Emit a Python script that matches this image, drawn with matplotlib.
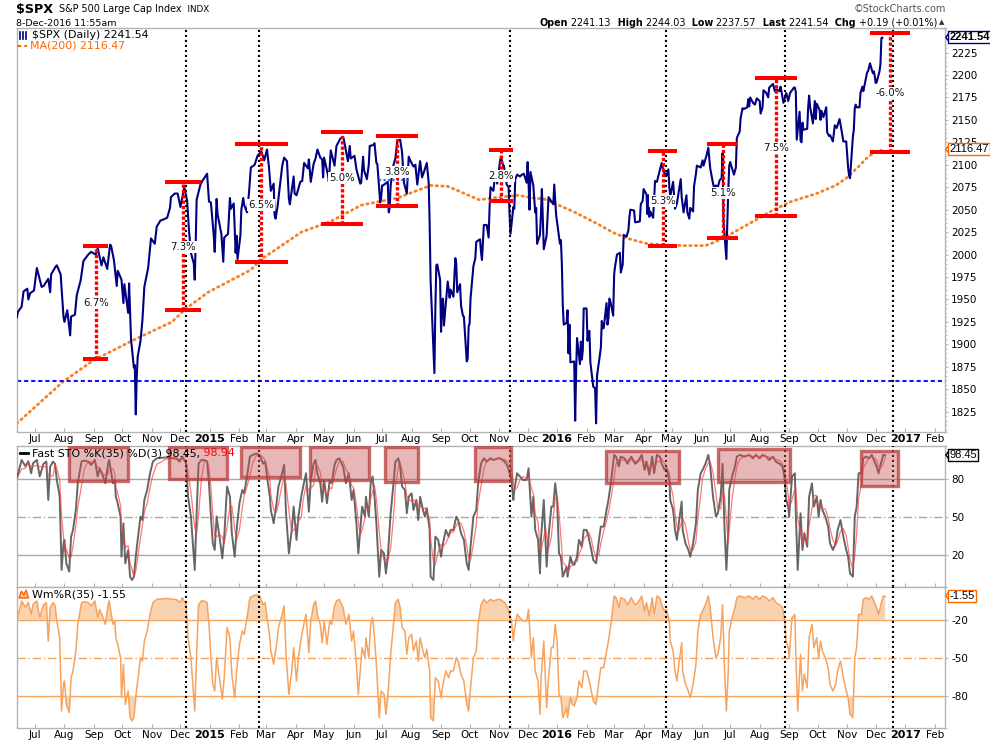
import numpy as np
import pandas as pd
import matplotlib
matplotlib.use("Agg")
from matplotlib import pyplot as plt
import matplotlib.dates as mdates
from matplotlib.patches import Rectangle, Polygon
from matplotlib.lines import Line2D
from matplotlib.ticker import MultipleLocator

plt.rcParams["axes.unicode_minus"] = False

W, H = 990, 744

# ---------------- data ----------------
spx_dates = [
    "2014-06-12", "2014-06-13", "2014-06-17", "2014-06-19", "2014-06-23", "2014-06-24", "2014-06-26", "2014-06-30",
    "2014-07-03", "2014-07-08", "2014-07-10", "2014-07-15", "2014-07-17", "2014-07-18", "2014-07-23", "2014-07-24", "2014-07-28", "2014-07-31",
    "2014-08-01", "2014-08-04", "2014-08-06", "2014-08-07", "2014-08-08", "2014-08-12", "2014-08-14", "2014-08-18", "2014-08-21", "2014-08-26", "2014-08-29",
    "2014-09-03", "2014-09-05", "2014-09-09", "2014-09-11", "2014-09-15", "2014-09-18", "2014-09-19", "2014-09-22", "2014-09-25", "2014-09-26", "2014-09-30",
    "2014-10-02", "2014-10-03", "2014-10-07", "2014-10-08", "2014-10-10", "2014-10-13", "2014-10-14", "2014-10-15", "2014-10-16", "2014-10-17", "2014-10-20", "2014-10-22", "2014-10-24", "2014-10-28", "2014-10-31",
    "2014-11-04", "2014-11-06", "2014-11-10", "2014-11-13", "2014-11-17", "2014-11-20", "2014-11-21", "2014-11-25", "2014-11-28",
    "2014-12-01", "2014-12-05", "2014-12-08", "2014-12-10", "2014-12-12", "2014-12-15", "2014-12-16", "2014-12-17", "2014-12-18", "2014-12-22", "2014-12-24", "2014-12-29", "2014-12-31",
    "2015-01-02", "2015-01-05", "2015-01-06", "2015-01-08", "2015-01-09", "2015-01-13", "2015-01-15", "2015-01-16", "2015-01-20", "2015-01-22", "2015-01-23", "2015-01-26", "2015-01-28", "2015-01-29", "2015-01-30",
    "2015-02-02", "2015-02-03", "2015-02-05", "2015-02-06", "2015-02-09", "2015-02-11", "2015-02-13", "2015-02-17", "2015-02-20", "2015-02-24", "2015-02-27",
    "2015-03-02", "2015-03-04", "2015-03-06", "2015-03-09", "2015-03-10", "2015-03-11", "2015-03-13", "2015-03-16", "2015-03-18", "2015-03-20", "2015-03-23", "2015-03-25", "2015-03-26", "2015-03-30", "2015-03-31",
    "2015-04-02", "2015-04-06", "2015-04-08", "2015-04-10", "2015-04-14", "2015-04-15", "2015-04-17", "2015-04-20", "2015-04-22", "2015-04-24", "2015-04-27", "2015-04-29", "2015-04-30",
    "2015-05-01", "2015-05-05", "2015-05-06", "2015-05-08", "2015-05-12", "2015-05-14", "2015-05-18", "2015-05-21", "2015-05-22", "2015-05-26", "2015-05-28", "2015-05-29",
    "2015-06-02", "2015-06-04", "2015-06-08", "2015-06-09", "2015-06-11", "2015-06-12", "2015-06-15", "2015-06-17", "2015-06-18", "2015-06-22", "2015-06-23", "2015-06-25", "2015-06-26", "2015-06-29", "2015-06-30",
    "2015-07-01", "2015-07-02", "2015-07-07", "2015-07-08", "2015-07-09", "2015-07-10", "2015-07-13", "2015-07-15", "2015-07-17", "2015-07-20", "2015-07-22", "2015-07-24", "2015-07-27", "2015-07-29", "2015-07-31",
    "2015-08-03", "2015-08-05", "2015-08-07", "2015-08-10", "2015-08-12", "2015-08-14", "2015-08-17", "2015-08-19", "2015-08-20", "2015-08-21", "2015-08-24", "2015-08-25", "2015-08-26", "2015-08-27", "2015-08-28", "2015-08-31",
    "2015-09-01", "2015-09-02", "2015-09-03", "2015-09-04", "2015-09-08", "2015-09-10", "2015-09-11", "2015-09-14", "2015-09-16", "2015-09-17", "2015-09-18", "2015-09-21", "2015-09-22", "2015-09-24", "2015-09-25", "2015-09-28", "2015-09-29", "2015-09-30",
    "2015-10-01", "2015-10-02", "2015-10-05", "2015-10-07", "2015-10-08", "2015-10-09", "2015-10-12", "2015-10-13", "2015-10-14", "2015-10-16", "2015-10-19", "2015-10-21", "2015-10-22", "2015-10-23", "2015-10-26", "2015-10-28", "2015-10-29", "2015-10-30",
    "2015-11-02", "2015-11-03", "2015-11-05", "2015-11-06", "2015-11-09", "2015-11-11", "2015-11-12", "2015-11-13", "2015-11-16", "2015-11-17", "2015-11-18", "2015-11-20", "2015-11-23", "2015-11-25", "2015-11-27", "2015-11-30",
    "2015-12-01", "2015-12-02", "2015-12-03", "2015-12-04", "2015-12-07", "2015-12-09", "2015-12-10", "2015-12-11", "2015-12-14", "2015-12-15", "2015-12-16", "2015-12-17", "2015-12-18", "2015-12-21", "2015-12-23", "2015-12-28", "2015-12-29", "2015-12-31",
    "2016-01-04", "2016-01-05", "2016-01-06", "2016-01-07", "2016-01-08", "2016-01-11", "2016-01-12", "2016-01-13", "2016-01-14", "2016-01-15", "2016-01-19", "2016-01-20", "2016-01-21", "2016-01-22", "2016-01-25", "2016-01-26", "2016-01-27", "2016-01-28", "2016-01-29",
    "2016-02-01", "2016-02-02", "2016-02-03", "2016-02-04", "2016-02-05", "2016-02-08", "2016-02-09", "2016-02-10", "2016-02-11", "2016-02-12", "2016-02-16", "2016-02-17", "2016-02-18", "2016-02-19", "2016-02-22", "2016-02-23", "2016-02-24", "2016-02-25", "2016-02-26", "2016-02-29",
    "2016-03-01", "2016-03-02", "2016-03-04", "2016-03-07", "2016-03-08", "2016-03-10", "2016-03-11", "2016-03-14", "2016-03-16", "2016-03-17", "2016-03-18", "2016-03-22", "2016-03-23", "2016-03-24", "2016-03-28", "2016-03-29", "2016-03-31",
    "2016-04-01", "2016-04-04", "2016-04-05", "2016-04-06", "2016-04-07", "2016-04-08", "2016-04-11", "2016-04-12", "2016-04-13", "2016-04-15", "2016-04-18", "2016-04-20", "2016-04-22", "2016-04-25", "2016-04-27", "2016-04-28", "2016-04-29",
    "2016-05-02", "2016-05-04", "2016-05-06", "2016-05-10", "2016-05-11", "2016-05-13", "2016-05-16", "2016-05-17", "2016-05-19", "2016-05-20", "2016-05-23", "2016-05-24", "2016-05-26", "2016-05-27", "2016-05-31",
    "2016-06-02", "2016-06-03", "2016-06-06", "2016-06-08", "2016-06-10", "2016-06-13", "2016-06-14", "2016-06-16", "2016-06-17", "2016-06-20", "2016-06-22", "2016-06-23", "2016-06-24", "2016-06-27", "2016-06-28", "2016-06-29", "2016-06-30",
    "2016-07-01", "2016-07-05", "2016-07-07", "2016-07-08", "2016-07-11", "2016-07-12", "2016-07-14", "2016-07-15", "2016-07-19", "2016-07-20", "2016-07-21", "2016-07-22", "2016-07-25", "2016-07-27", "2016-07-29",
    "2016-08-01", "2016-08-02", "2016-08-04", "2016-08-05", "2016-08-08", "2016-08-10", "2016-08-11", "2016-08-15", "2016-08-17", "2016-08-19", "2016-08-22", "2016-08-23", "2016-08-25", "2016-08-26", "2016-08-29", "2016-08-31",
    "2016-09-02", "2016-09-06", "2016-09-07", "2016-09-08", "2016-09-09", "2016-09-12", "2016-09-13", "2016-09-14", "2016-09-15", "2016-09-16", "2016-09-20", "2016-09-21", "2016-09-22", "2016-09-23", "2016-09-26", "2016-09-28", "2016-09-29", "2016-09-30",
    "2016-10-03", "2016-10-04", "2016-10-05", "2016-10-07", "2016-10-10", "2016-10-11", "2016-10-13", "2016-10-14", "2016-10-17", "2016-10-19", "2016-10-21", "2016-10-24", "2016-10-26", "2016-10-28", "2016-10-31",
    "2016-11-01", "2016-11-02", "2016-11-03", "2016-11-04", "2016-11-07", "2016-11-08", "2016-11-09", "2016-11-10", "2016-11-11", "2016-11-14", "2016-11-15", "2016-11-17", "2016-11-18", "2016-11-21", "2016-11-22", "2016-11-23", "2016-11-25", "2016-11-28", "2016-11-29", "2016-11-30",
    "2016-12-01", "2016-12-02", "2016-12-05", "2016-12-06", "2016-12-07", "2016-12-08",
]
spx_close = [
    1930, 1936, 1942, 1959, 1962, 1950, 1957, 1960,
    1985, 1964, 1965, 1973, 1958, 1978, 1987, 1988, 1978, 1931,
    1925, 1938, 1920, 1910, 1931, 1933, 1955, 1971, 1993, 2000, 2003,
    2000, 2007, 1988, 1997, 1984, 2011, 2010, 1994, 1965, 1982, 1972,
    1946, 1967, 1935, 1968, 1906, 1874, 1877, 1822, 1863, 1886, 1904, 1927, 1964, 1985, 2018,
    2012, 2031, 2038, 2039, 2041, 2052, 2064, 2068, 2068,
    2053, 2075, 2060, 2026, 2002, 1990, 1972, 2012, 2061, 2078, 2082, 2090, 2059,
    2058, 2021, 2003, 2062, 2045, 2023, 1992, 2019, 2023, 2063, 2051, 2057, 2002, 2021, 1995,
    2021, 2050, 2063, 2055, 2047, 2068, 2097, 2100, 2110, 2115, 2105,
    2117, 2098, 2071, 2079, 2044, 2040, 2053, 2081, 2099, 2108, 2104, 2062, 2056, 2087, 2068,
    2066, 2081, 2082, 2102, 2096, 2106, 2081, 2101, 2107, 2117, 2108, 2106, 2086,
    2108, 2089, 2081, 2116, 2099, 2121, 2129, 2131, 2127, 2104, 2121, 2107,
    2110, 2095, 2079, 2080, 2109, 2094, 2084, 2100, 2121, 2122, 2124, 2102, 2101, 2058, 2063,
    2077, 2077, 2081, 2047, 2052, 2077, 2100, 2107, 2127, 2128, 2114, 2080, 2068, 2109, 2104,
    2098, 2100, 2078, 2104, 2086, 2092, 2102, 2080, 2035, 1971, 1893, 1868, 1940, 1988, 1989, 1972,
    1914, 1949, 1951, 1921, 1970, 1952, 1961, 1953, 1996, 1990, 1958, 1967, 1943, 1932, 1931, 1881, 1884, 1920,
    1923, 1951, 1987, 1996, 2014, 2015, 2017, 2003, 1994, 2033, 2033, 2019, 2052, 2075, 2071, 2090, 2089, 2079,
    2104, 2109, 2100, 2099, 2078, 2075, 2046, 2023, 2053, 2051, 2084, 2089, 2087, 2089, 2090, 2080,
    2103, 2080, 2050, 2092, 2077, 2047, 2052, 2012, 2022, 2044, 2073, 2041, 2006, 2021, 2064, 2056, 2078, 2044,
    2012, 2016, 1990, 1943, 1922, 1924, 1938, 1890, 1922, 1880, 1881, 1815, 1869, 1907, 1878, 1903, 1883, 1893, 1940,
    1940, 1904, 1913, 1915, 1880, 1853, 1852, 1851, 1812, 1865, 1896, 1926, 1918, 1918, 1946, 1922, 1929, 1951, 1948, 1932,
    1978, 1987, 2000, 2002, 1980, 1989, 2022, 2020, 2027, 2041, 2050, 2049, 2036, 2036, 2037, 2056, 2060,
    2073, 2067, 2045, 2066, 2042, 2048, 2041, 2062, 2082, 2081, 2094, 2102, 2092, 2088, 2095, 2075, 2065,
    2081, 2051, 2057, 2084, 2064, 2047, 2066, 2047, 2040, 2052, 2048, 2076, 2090, 2099, 2097,
    2105, 2099, 2110, 2119, 2096, 2079, 2075, 2077, 2071, 2083, 2085, 2113, 2037, 1995, 2036, 2071, 2099,
    2103, 2089, 2097, 2130, 2137, 2152, 2163, 2162, 2164, 2173, 2165, 2175, 2169, 2167, 2174,
    2171, 2157, 2164, 2183, 2180, 2175, 2186, 2190, 2182, 2184, 2182, 2187, 2175, 2169, 2180, 2171,
    2180, 2186, 2186, 2181, 2128, 2159, 2127, 2125, 2147, 2139, 2140, 2164, 2177, 2165, 2146, 2171, 2151, 2168,
    2161, 2150, 2160, 2153, 2164, 2136, 2132, 2133, 2126, 2144, 2141, 2151, 2139, 2126, 2126,
    2111, 2097, 2088, 2085, 2131, 2139, 2163, 2167, 2164, 2164, 2180, 2187, 2182, 2198, 2203, 2204, 2213, 2202, 2204, 2199,
    2191, 2192, 2204, 2212, 2241, 2241.54,
]

ma_dates = [
    "2014-06-12", "2014-07-30", "2014-08-31", "2014-10-13", "2014-11-22", "2014-12-07", "2014-12-30",
    "2015-02-13", "2015-02-23", "2015-04-07", "2015-05-08", "2015-06-09", "2015-07-17", "2015-08-21",
    "2015-09-08", "2015-10-11", "2015-11-02", "2015-11-21", "2015-12-07", "2015-12-18", "2016-01-18",
    "2016-02-11", "2016-03-01", "2016-03-15", "2016-04-05", "2016-04-21", "2016-05-15", "2016-06-05",
    "2016-06-15", "2016-06-30", "2016-07-27", "2016-08-16", "2016-09-03", "2016-09-30", "2016-10-20",
    "2016-10-31", "2016-11-13", "2016-11-23", "2016-12-01", "2016-12-08",
]
ma200 = [
    1812, 1858, 1882, 1905, 1925, 1940, 1958,
    1983, 1994, 2025, 2037, 2055, 2063, 2077,
    2076, 2061, 2064, 2066, 2063, 2062, 2048,
    2035, 2024, 2018, 2012, 2011, 2010, 2010,
    2014, 2022, 2038, 2050, 2059, 2068, 2077,
    2085, 2098, 2109, 2114, 2116.47,
]

sto_dates = [
    "2014-06-12", "2014-06-17", "2014-06-21", "2014-06-24", "2014-06-27", "2014-06-29",
    "2014-07-03", "2014-07-06", "2014-07-10", "2014-07-13", "2014-07-15", "2014-07-17", "2014-07-20", "2014-07-22", "2014-07-24", "2014-07-27", "2014-07-29", "2014-07-31",
    "2014-08-01", "2014-08-03", "2014-08-06", "2014-08-08", "2014-08-10", "2014-08-13", "2014-08-15", "2014-08-19", "2014-08-22", "2014-08-26", "2014-08-29",
    "2014-09-02", "2014-09-05", "2014-09-07", "2014-09-10", "2014-09-13", "2014-09-16", "2014-09-17", "2014-09-21", "2014-09-23", "2014-09-24", "2014-09-26", "2014-09-29", "2014-09-30",
    "2014-10-02", "2014-10-04", "2014-10-07", "2014-10-09", "2014-10-11", "2014-10-13", "2014-10-15", "2014-10-17", "2014-10-20", "2014-10-22", "2014-10-24", "2014-10-27", "2014-10-30",
    "2014-11-02", "2014-11-06", "2014-11-16", "2014-11-27", "2014-11-30",
    "2014-12-03", "2014-12-07", "2014-12-09", "2014-12-12", "2014-12-16", "2014-12-18", "2014-12-20", "2014-12-23", "2014-12-26", "2014-12-29", "2014-12-31",
    "2015-01-02", "2015-01-04", "2015-01-06", "2015-01-08", "2015-01-11", "2015-01-14", "2015-01-16", "2015-01-19", "2015-01-22", "2015-01-24", "2015-01-27", "2015-01-29",
    "2015-02-01", "2015-02-04", "2015-02-06", "2015-02-09", "2015-02-12", "2015-02-15", "2015-02-19", "2015-02-22", "2015-02-26", "2015-02-28",
    "2015-03-02", "2015-03-05", "2015-03-06", "2015-03-09", "2015-03-12", "2015-03-14", "2015-03-17", "2015-03-20", "2015-03-22", "2015-03-25", "2015-03-28", "2015-03-30",
    "2015-04-02", "2015-04-04", "2015-04-07", "2015-04-09", "2015-04-12", "2015-04-15", "2015-04-17", "2015-04-20", "2015-04-22", "2015-04-24", "2015-04-27", "2015-04-29",
    "2015-05-01", "2015-05-04", "2015-05-07", "2015-05-09", "2015-05-12", "2015-05-14", "2015-05-17", "2015-05-21", "2015-05-24", "2015-05-27", "2015-05-30",
    "2015-06-01", "2015-06-04", "2015-06-06", "2015-06-08", "2015-06-10", "2015-06-13", "2015-06-14", "2015-06-17", "2015-06-19", "2015-06-21", "2015-06-23", "2015-06-25", "2015-06-28", "2015-06-30",
    "2015-07-03", "2015-07-05", "2015-07-07", "2015-07-10", "2015-07-13", "2015-07-15", "2015-07-18", "2015-07-20", "2015-07-22", "2015-07-25", "2015-07-27", "2015-07-29",
    "2015-08-01", "2015-08-03", "2015-08-06", "2015-08-08", "2015-08-10", "2015-08-13", "2015-08-15", "2015-08-17", "2015-08-20", "2015-08-21", "2015-08-24", "2015-08-26", "2015-08-29",
    "2015-09-01", "2015-09-03", "2015-09-06", "2015-09-09", "2015-09-11", "2015-09-14", "2015-09-17", "2015-09-19", "2015-09-22", "2015-09-25", "2015-09-28", "2015-09-30",
    "2015-10-02", "2015-10-05", "2015-10-08", "2015-10-10", "2015-10-13", "2015-10-16", "2015-10-19", "2015-10-23", "2015-10-26", "2015-10-31",
    "2015-11-02", "2015-11-07", "2015-11-10", "2015-11-14", "2015-11-16", "2015-11-17", "2015-11-20", "2015-11-23", "2015-11-26", "2015-11-30",
    "2015-12-02", "2015-12-05", "2015-12-07", "2015-12-09", "2015-12-12", "2015-12-14", "2015-12-15", "2015-12-18", "2015-12-20", "2015-12-21", "2015-12-23", "2015-12-26", "2015-12-28", "2015-12-30",
    "2016-01-01", "2016-01-03", "2016-01-05", "2016-01-07", "2016-01-11", "2016-01-12", "2016-01-15", "2016-01-17", "2016-01-19", "2016-01-22", "2016-01-24", "2016-01-27", "2016-01-29",
    "2016-02-01", "2016-02-03", "2016-02-06", "2016-02-08", "2016-02-11", "2016-02-14", "2016-02-16", "2016-02-19", "2016-02-22", "2016-02-24", "2016-02-27",
    "2016-03-01", "2016-03-03", "2016-03-06", "2016-03-08", "2016-03-12", "2016-03-15", "2016-03-19", "2016-03-23", "2016-03-26", "2016-03-30",
    "2016-04-02", "2016-04-04", "2016-04-07", "2016-04-10", "2016-04-12", "2016-04-15", "2016-04-18", "2016-04-20", "2016-04-23", "2016-04-25", "2016-04-28", "2016-04-29",
    "2016-05-02", "2016-05-04", "2016-05-06", "2016-05-08", "2016-05-11", "2016-05-12", "2016-05-15", "2016-05-18", "2016-05-20", "2016-05-23", "2016-05-26", "2016-05-28", "2016-05-31",
    "2016-06-02", "2016-06-05", "2016-06-08", "2016-06-10", "2016-06-13", "2016-06-16", "2016-06-18", "2016-06-21", "2016-06-23", "2016-06-25", "2016-06-27", "2016-06-29", "2016-06-30",
    "2016-07-03", "2016-07-06", "2016-07-08", "2016-07-11", "2016-07-16", "2016-07-21", "2016-07-25", "2016-07-28",
    "2016-08-01", "2016-08-04", "2016-08-08", "2016-08-11", "2016-08-15", "2016-08-18", "2016-08-22", "2016-08-25", "2016-08-27", "2016-08-29", "2016-08-31",
    "2016-09-01", "2016-09-04", "2016-09-07", "2016-09-08", "2016-09-10", "2016-09-13", "2016-09-15", "2016-09-17", "2016-09-20", "2016-09-22", "2016-09-25", "2016-09-27", "2016-09-30",
    "2016-10-02", "2016-10-04", "2016-10-06", "2016-10-09", "2016-10-12", "2016-10-14", "2016-10-17", "2016-10-20", "2016-10-22", "2016-10-25", "2016-10-28", "2016-10-31",
    "2016-11-02", "2016-11-04", "2016-11-07", "2016-11-09", "2016-11-11", "2016-11-13", "2016-11-16", "2016-11-18", "2016-11-21", "2016-11-24", "2016-11-27", "2016-11-29",
    "2016-12-02", "2016-12-04", "2016-12-07", "2016-12-09", "2016-12-11",
]
sto_k = [
    80.5, 95, 90, 94, 84.5, 92.4,
    95, 82, 92, 93.7, 63.4, 89.8, 93.7, 92, 79.2, 66, 8.2, 29.2,
    31.9, 13.4, 6.9, 34.5, 39.8, 55.5, 76.6, 93.7, 94.5, 93.7, 91.1,
    95, 81.9, 88.4, 83.2, 76.6, 92.4, 95, 76.6, 79.2, 66, 60.8, 50.3, 18.7,
    45, 13.4, 24, 2.9, 0.3, 2.9, 18.7, 31.9, 50.3, 47.6, 63.4, 71.3, 84.5,
    93.7, 96.3, 97, 96, 93.7,
    97.6, 92, 66, 50.3, 8.2, 53, 92, 95, 95, 93.7, 76.6,
    50.3, 29.2, 24, 50.3, 34.5, 17.4, 34.5, 74, 66, 37.1, 18.7, 39.8,
    60.8, 71.3, 68.7, 81.9, 97.6, 99, 100, 99, 92, 93.7,
    81.9, 66, 55.5, 45, 60.8, 74, 81.9, 91.1, 53, 21.3, 39.8, 58.2,
    31.9, 50.3, 66, 74, 84.5, 54.2, 79.2, 92, 95, 84.5, 76.6, 62,
    79.2, 60.8, 79.2, 76.6, 91.1, 95, 96.3, 89.8, 76.6, 84.5, 63.4,
    71.3, 45, 21.3, 39.8, 58.2, 50.3, 66, 50.3, 76.6, 81.9, 66, 45, 2.9, 24,
    21.3, 5.5, 18.7, 53, 76.6, 93.7, 96.3, 89.8, 74, 71.3, 53, 66,
    68.7, 55.5, 63.4, 47.6, 66, 55.5, 50.3, 56.9, 39.8, 2.9, 0.3, 34.5, 31.9,
    18.7, 29.2, 39.8, 34.5, 39.8, 39.8, 50.3, 47.6, 37.1, 31.9, 13.4, 8.2,
    26.6, 50.3, 55.5, 76.6, 92, 96.3, 93.7, 96.3, 95, 96.3,
    96.3, 93.7, 89.8, 79.2, 63.4, 71.3, 84.5, 81.9, 79.2, 79.2,
    88.4, 50.3, 66, 39.8, 31.9, 5.5, 31.9, 63.4, 29.2, 10.8, 34.5, 58.2, 58.2, 76.6,
    63.4, 21.3, 18.7, 2.9, 10.8, 2.9, 18.7, 13.4, 12.1, 18.7, 31.9, 26.6, 39.8,
    39.8, 34.5, 24, 16.1, 13.4, 31.9, 42.4, 42.4, 55.5, 63.4, 79.2,
    99, 97.6, 89.8, 97.6, 96.3, 92, 97.6, 92, 93.7, 99,
    87.1, 93.7, 83.2, 97.6, 84.5, 99, 97.6, 92, 87.1, 88.4, 79.2, 63.4,
    55.5, 39.8, 31.9, 45, 62.1, 39.8, 29.2, 24, 18.7, 29.2, 45, 71.3, 84.5,
    87.1, 92, 99, 89.8, 66, 50.3, 52.9, 66, 92, 42.4, 8.2, 39.8, 71.3,
    81.9, 89.8, 97.6, 99, 97.6, 99, 96.3, 99,
    96.3, 99, 97.6, 95, 97.6, 93.7, 92, 89.8, 81.9, 63.4, 58.2,
    50.3, 81.9, 84.5, 52.9, 8.2, 52.9, 24, 37.1, 26.6, 66, 76.6, 58.2, 66,
    50.3, 63.4, 55.5, 50.3, 42.4, 29.2, 24, 29.2, 39.8, 47.6, 34.5, 24,
    18.7, 5.5, 2.9, 50.3, 58.2, 84.5, 84.5, 96.3, 97.6, 96.3, 99, 95,
    89.8, 84.5, 93.7, 99, 98.45,
]

# percentage swings drawn by hand on the chart
ann_dates = ["2014-09-03", "2014-12-04", "2015-02-24", "2015-05-20", "2015-07-17",
             "2015-11-03", "2016-04-21", "2016-06-23", "2016-08-18", "2016-12-16"]
ann_top = [2010, 2081, 2123, 2137, 2132, 2117, 2115, 2123, 2197, 2247]
ann_bottom = [1884, 1938, 1992, 2034, 2054, 2060, 2009, 2018, 2043, 2114]
ann_labels = ["6.7%", "7.3%", "6.5%", "5.0%", "3.8%", "2.8%", "5.3%", "5.1%", "7.5%", "-6.0%"]
ann_label_at = [1946, 2008, 2055, 2085, 2092, 2088, 2060, 2069, 2119, 2180]
ann_halfwidth_days = [13, 19, 28, 22, 22, 13, 15, 16, 22, 21]

marker_dates = ["2014-12-07", "2015-02-22", "2015-11-13", "2016-04-25", "2016-08-28", "2016-12-19"]
support_level = 1859

# boxes drawn over overbought stretches: start, end, bottom, top
box_start = ["2014-08-06", "2014-11-19", "2015-02-03", "2015-04-16", "2015-07-04",
             "2015-10-07", "2016-02-21", "2016-06-18", "2016-11-16"]
box_end = ["2014-10-07", "2015-01-19", "2015-04-06", "2015-06-17", "2015-08-08",
           "2015-11-14", "2016-05-08", "2016-09-02", "2016-12-24"]
box_low = [78.4, 80, 81.8, 79.2, 77.9, 78.4, 76.6, 77.9, 74.5]
box_high = [105, 105, 105, 105, 105, 105, 102, 103.5, 102]

assert len(spx_dates) == len(spx_close)
assert len(ma_dates) == len(ma200)
assert len(sto_dates) == len(sto_k)

spx = pd.Series(spx_close, index=pd.to_datetime(spx_dates))
ma = pd.Series(ma200, index=pd.to_datetime(ma_dates))
k = pd.Series(sto_k, index=pd.to_datetime(sto_dates))
d3 = k.rolling(3, min_periods=1).mean()   # %D(3)
wr = k - 100                              # Williams %R is %K shifted by 100


def fx(px):
    return px / W


def fy(py):
    return 1 - py / H


NAVY = "#000080"
ORANGE = "#ff6600"
MA_ORANGE = "#f58025"
WR_ORANGE = "#f6a35e"
FRAME = "#b4b4b4"

fig = plt.figure(figsize=(W / 100, H / 100), dpi=100)
fig.patch.set_facecolor("white")

left, width = fx(16.7), (945.5 - 16.7) / W
ax_p = fig.add_axes([left, fy(432), width, (432 - 28.3) / H])
ax_s = fig.add_axes([left, fy(586.7), width, (586.7 - 446) / H])
ax_w = fig.add_axes([left, fy(727.7), width, (727.7 - 586.7) / H])
axes = [ax_p, ax_s, ax_w]

t0 = pd.Timestamp("2014-07-01")
xlim = (t0 + pd.Timedelta(days=-19.2), t0 + pd.Timedelta(days=957.4))
months = pd.date_range("2014-07-01", "2017-02-01", freq="MS")
month_labels = [str(m.year) if m.month == 1 else m.strftime("%b") for m in months]

for ax in axes:
    ax.set_xlim(*xlim)
    for s in ax.spines.values():
        s.set_color(FRAME)
        s.set_linewidth(1)
    ax.yaxis.tick_right()
    ax.tick_params(axis="y", which="major", direction="out", length=2, pad=2,
                   labelsize=7.5, color=FRAME, labelcolor="black")
    ax.set_xticks(months)
    ax.set_xticklabels(month_labels)
    ax.tick_params(axis="x", direction="in", length=3, pad=1.5, labelsize=7.5,
                   color=FRAME, labelcolor="black")
    for lab in ax.get_xticklabels():
        if lab.get_text().isdigit():
            lab.set_fontweight("bold")
            lab.set_fontsize(8)
    for d in marker_dates:
        ax.axvline(pd.Timestamp(d), color="black", lw=1.5, dashes=(1, 1.4), zorder=5)
ax_s.tick_params(axis="x", labelbottom=False)

# ---------------- price panel ----------------
ax_p.plot(spx.index, spx.values, color=NAVY, lw=1.5, zorder=3)
ax_p.plot(ma.index, ma.values, color=MA_ORANGE, lw=2.0, dashes=(0.5, 1.5),
          dash_capstyle="round", zorder=2)
ax_p.axhline(support_level, color="#1414ff", lw=1.5, dashes=(2, 1.4), zorder=2)
ax_p.plot([pd.Timestamp("2015-06-28"), pd.Timestamp("2015-07-30")], [2083, 2083],
          color="#1e78ff", lw=1.6, dashes=(1, 1), zorder=6)

for d, top, bot, lab, at, hw in zip(ann_dates, ann_top, ann_bottom, ann_labels,
                                   ann_label_at, ann_halfwidth_days):
    d = pd.Timestamp(d)
    half = pd.Timedelta(days=hw)
    ax_p.plot([d - half, d + half], [top, top], color="#ff0000", lw=2.9,
              solid_capstyle="butt", zorder=7)
    ax_p.plot([d - half, d + half], [bot, bot], color="#ff0000", lw=2.9,
              solid_capstyle="butt", zorder=7)
    ax_p.plot([d, d], [bot, top], color="#ff0000", lw=2.4, dashes=(1, 0.6), zorder=7)
    ax_p.text(d, at, lab, fontsize=7.3, ha="center", va="center", color="#111111", zorder=8,
              bbox=dict(boxstyle="square,pad=0.1", fc="white", ec="none"))

ax_p.set_ylim(1802.4, 2252)
ax_p.set_yticks(np.arange(1825, 2226, 25))
ax_p.yaxis.set_minor_locator(MultipleLocator(5))
ax_p.tick_params(axis="y", which="minor", direction="out", length=1.2, color=FRAME)

# ---------------- fast stochastic panel ----------------
for lvl in (80, 20):
    ax_s.axhline(lvl, color="#a8a8a8", lw=1, zorder=1)
ax_s.axhline(50, color="#a8a8a8", lw=1, dashes=(6, 2, 1, 2), zorder=1)
ax_s.plot(k.index, k.values, color="#555555", lw=1.4, alpha=0.9, zorder=3)
ax_s.plot(d3.index, d3.values, color="#ff4040", lw=0.9, alpha=0.7, zorder=4)
for a, b, lo, hi in zip(box_start, box_end, box_low, box_high):
    x0 = mdates.date2num(pd.Timestamp(a))
    x1 = mdates.date2num(pd.Timestamp(b))
    ax_s.add_patch(Rectangle((x0, lo), x1 - x0, hi - lo, facecolor=(0.78, 0.33, 0.33, 0.42),
                             edgecolor=(0.72, 0.24, 0.24, 0.75), lw=2.4, zorder=6))
ax_s.set_ylim(-5, 106)
ax_s.set_yticks([20, 50, 80])

# ---------------- Williams %R panel ----------------
ax_w.axhline(-20, color=WR_ORANGE, lw=1, zorder=1)
ax_w.axhline(-80, color=WR_ORANGE, lw=1, zorder=1)
ax_w.axhline(-50, color=WR_ORANGE, lw=1, dashes=(6, 2, 1, 2), zorder=1)
ax_w.fill_between(wr.index, wr.values, -20, where=wr.values > -20, interpolate=True,
                  color="#f9d3b0", lw=0, zorder=2)
ax_w.fill_between(wr.index, wr.values, -80, where=wr.values < -80, interpolate=True,
                  color="#f9d3b0", lw=0, zorder=2)
ax_w.plot(wr.index, wr.values, color=WR_ORANGE, lw=1.1, zorder=3)
ax_w.set_ylim(-105, 6.3)
ax_w.set_yticks([-80, -50, -20])

# ---------------- texts ----------------
renderer = fig.canvas.get_renderer()


def text_runs(x, y, runs, ha="left"):
    # runs: (text, size, weight, colour) drawn one after another
    objs = [fig.text(0, fy(y), s, fontsize=sz, fontweight=wt, color=c, va="center", ha="left")
            for s, sz, wt, c in runs]
    widths = [t.get_window_extent(renderer).width for t in objs]
    pos = x - sum(widths) if ha == "right" else x
    for t, w in zip(objs, widths):
        t.set_x(fx(pos))
        pos += w


text_runs(16, 9.5, [("$SPX", 9.2, "bold", "black"),
                    ("  S&P 500 Large Cap Index", 6.9, "normal", "black"),
                    ("  INDX", 6.3, "normal", "black")])
fig.text(fx(16), fy(23.3), "8-Dec-2016 11:55am", fontsize=6.8, va="center")
fig.text(fx(946), fy(9.3), "\u00a9StockCharts.com", fontsize=7, va="center", ha="right",
         color="#555555")
hdr = 6.9
text_runs(937, 22.7, [("Open", hdr, "bold", "black"), (" 2241.13", hdr, "normal", "black"),
                      ("  High", hdr, "bold", "black"), (" 2244.03", hdr, "normal", "black"),
                      ("  Low", hdr, "bold", "black"), (" 2237.57", hdr, "normal", "black"),
                      ("  Last", hdr, "bold", "black"), (" 2241.54", hdr, "normal", "black"),
                      ("  Chg", hdr, "bold", "black"), (" +0.19 (+0.01%)", hdr, "normal", "black")],
          ha="right")
fig.text(fx(941.5), fy(22.5), "\u25b2", fontsize=5, va="center", ha="center", color="#333333")

# legends inside panels
for xx in (20, 23, 26):
    fig.add_artist(Line2D([fx(xx), fx(xx)], [fy(31.5), fy(38.5)], color=NAVY, lw=1.2))
fig.text(fx(31.7), fy(35), "$SPX (Daily) 2241.54", fontsize=7.9, va="center")
fig.add_artist(Line2D([fx(17), fx(27)], [fy(46), fy(46)], color=ORANGE, lw=1.5, dashes=(2, 1.5)))
fig.text(fx(29.7), fy(46), "MA(200) 2116.47", fontsize=7.9, va="center", color=ORANGE)

fig.add_artist(Line2D([fx(20), fx(28)], [fy(453.3), fy(453.3)], color="black", lw=2))
text_runs(31.7, 453.3, [("Fast STO %K(35) %D(3) 98.45,", 7.9, "normal", "black"),
                        (" 98.94", 7.9, "normal", "#ff0000")])

fig.add_artist(Polygon([[fx(19), fy(598)], [fx(21.5), fy(591)], [fx(24), fy(595)],
                        [fx(26), fy(590)], [fx(28.5), fy(598)]], closed=True,
                       facecolor="#f9c08a", edgecolor=ORANGE, lw=1))
fig.text(fx(31.7), fy(594.3), "Wm%R(35) -1.55", fontsize=7.9, va="center")


# value flags on the right scale
def value_flag(y, label, edge, bold=False):
    fig.text(fx(949.5), fy(y), label, fontsize=8, va="center", ha="left",
             family="Liberation Sans", fontweight="bold" if bold else "normal",
             bbox=dict(boxstyle="square,pad=0.1", fc="white", ec=edge, lw=1))
    fig.add_artist(Line2D([fx(948.5), fx(945.8), fx(948.5)], [fy(y - 3.5), fy(y), fy(y + 3.5)],
                          color=edge, lw=1))


value_flag(37.3, "2241.54", NAVY, bold=True)
value_flag(149.3, "2116.47", ORANGE)
value_flag(455, "98.45", "black")
value_flag(595.7, "-1.55", ORANGE)

fig.savefig("out.png", dpi=100)
